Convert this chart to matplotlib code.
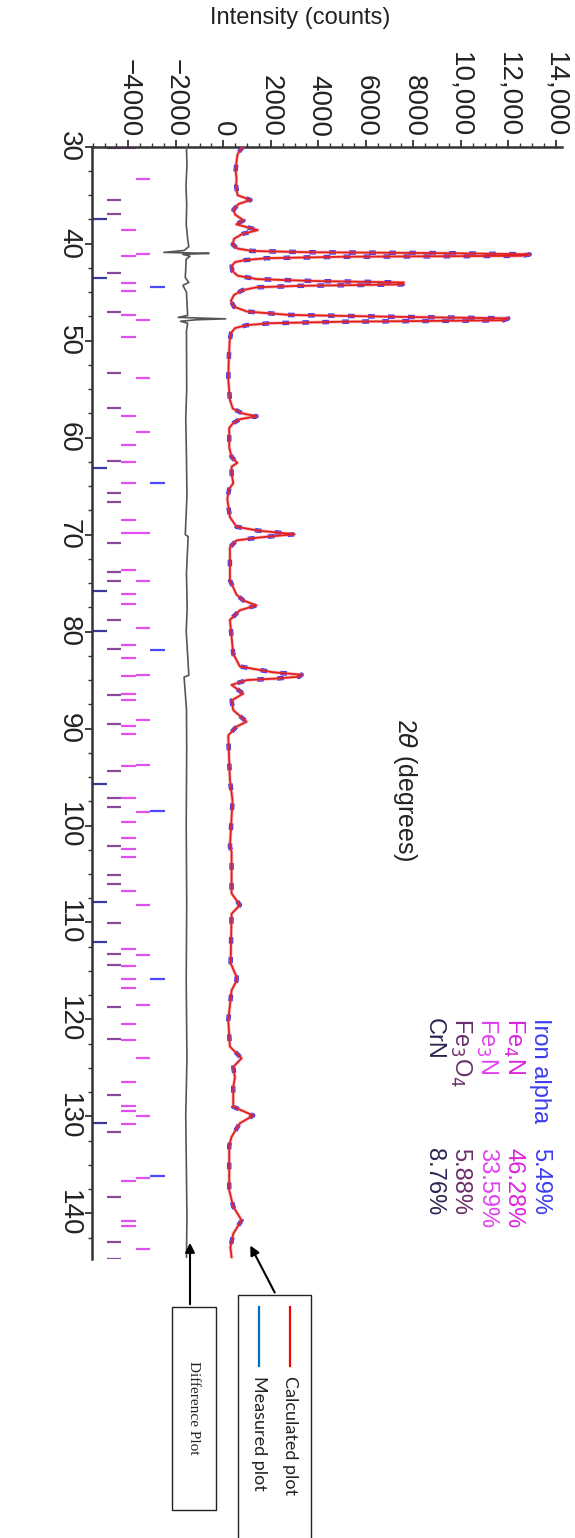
import matplotlib
matplotlib.use("Agg")
import matplotlib.pyplot as plt
from matplotlib.patches import Rectangle
from matplotlib.lines import Line2D
from matplotlib.ticker import MultipleLocator, FuncFormatter

plt.rcParams["font.family"] = ["Liberation Sans", "DejaVu Sans"]

# --- calculated profile (2theta in degrees, intensity in counts) ---
calc_2theta = [30.0, 30.4, 30.8, 31.5, 32.5, 33.3, 34.0, 35.0, 35.5, 35.9, 36.5, 37.0, 37.6,
               38.0, 38.6, 39.0, 39.5, 40.1, 40.5, 40.75, 40.88, 40.98, 41.1, 41.25, 41.35,
               41.5, 41.7, 41.9, 42.3, 42.8, 43.3, 43.65, 43.85, 44.0, 44.2, 44.35, 44.5,
               44.8, 45.3, 45.9, 46.5, 47.0, 47.35, 47.55, 47.7, 47.9, 48.05, 48.2, 48.4,
               48.7, 49.2, 50.0, 52.0, 54.0, 56.1, 57.0, 57.5, 57.8, 58.1, 58.5, 59.0, 61.0,
               62.0, 62.6, 63.0, 63.7, 64.7, 65.3, 66.3, 68.2, 69.2, 69.6, 69.96, 70.3,
               70.6, 71.3, 74.7, 76.2, 76.8, 77.3, 77.8, 78.8, 82.3, 83.6, 84.2, 84.45,
               84.65, 84.85, 85.0, 85.5, 86.4, 87.1, 88.1, 89.3, 89.8, 90.7, 95.3, 97.4,
               102.2, 102.7, 107.0, 108.2, 109.1, 114.2, 115.6, 116.0, 117.0, 120.1, 122.8,
               124.0, 124.9, 126.0, 127.0, 129.0, 129.9, 130.7, 132.1, 133.0, 137.6, 139.3,
               140.7, 142.1, 143.5, 144.5]
calc_counts = [840, 700, 600, 560, 520, 560, 540, 600, 1150, 650, 430, 500, 850,
               550, 1450, 800, 450, 400, 600, 1200, 3500, 9500, 12900, 12600, 5000,
               1800, 900, 500, 350, 380, 600, 1400, 3800, 7600, 7550, 3200, 1400,
               800, 450, 320, 450, 1000, 2800, 7500, 12000, 11800, 5000, 2000, 1000,
               500, 330, 270, 230, 211, 280, 400, 800, 1400, 700, 420, 250, 250,
               350, 590, 350, 350, 420, 250, 170, 280, 560, 1500, 3000, 1500,
               560, 280, 280, 560, 850, 1400, 700, 280, 420, 700, 2100, 3300,
               3200, 2200, 1000, 350, 840, 350, 420, 980, 560, 210, 280, 390,
               280, 350, 350, 700, 350, 310, 560, 560, 350, 210, 280,
               770, 420, 490, 420, 420, 1260, 700, 350, 250, 250, 420,
               770, 420, 300, 350]

# --- difference curve (offset below zero) ---
diff_2theta = [30.0, 32.0, 34.0, 36.0, 38.0, 39.5, 40.3, 40.7, 40.9, 41.0, 41.1, 41.3, 41.6,
               43.5, 44.0, 44.3, 45.0, 47.4, 47.6, 47.75, 47.85, 48.0, 48.2, 49.0, 55.0,
               58.0, 62.0, 66.0, 70.0, 70.2, 74.0, 77.5, 80.0, 84.5, 84.7, 88.0, 92.0,
               100.0, 108.0, 116.0, 124.0, 130.0, 136.0, 140.5, 144.5]
diff_counts = [-1550, -1530, -1570, -1540, -1560, -1500, -1450, -1650, -2500, -600, -1700,
               -1400, -1560, -1600, -1450, -1700, -1550, -1500, -1900, 100, -1150, -1800,
               -1500, -1550, -1540, -1580, -1550, -1530, -1600, -1480, -1550, -1520, -1560,
               -1450, -1650, -1550, -1540, -1560, -1540, -1560, -1530, -1580, -1550, -1530,
               -1550]

# --- reflection markers per phase ---
phases = ["Iron alpha", "Fe$_4$N", "Fe$_3$N", "Fe$_3$O$_4$", "CrN"]
fractions = ["5.49%", "46.28%", "33.59%", "5.88%", "8.76%"]
pos_iron = [44.50, 64.72, 81.92, 98.50, 115.86, 136.18]
pos_fe4n = [33.30, 41.07, 47.88, 53.83, 59.40, 69.82, 74.80, 79.62, 84.43, 89.14, 93.78,
            98.60, 108.22, 113.35, 118.51, 123.98, 129.96, 136.32, 143.64]
pos_fe3n = [30.17, 38.59, 41.24, 44.03, 44.85, 47.33, 49.66, 57.75, 60.74, 62.56, 64.72,
            68.45, 69.82, 73.60, 76.14, 77.14, 81.43, 82.77, 84.60, 86.43, 87.08, 89.73,
            90.55, 93.85, 97.16, 99.63, 101.31, 102.42, 103.24, 106.75, 112.73, 114.52,
            115.86, 116.72, 120.50, 122.15, 126.48, 128.96, 129.44, 130.74, 136.70,
            140.82, 141.31]
pos_fe3o4 = [30.10, 35.50, 36.94, 43.06, 47.02, 53.31, 56.92, 62.39, 65.69, 66.68, 70.85,
             73.84, 74.80, 78.79, 81.78, 86.56, 89.55, 94.37, 97.16, 98.14, 102.14, 105.06,
             106.06, 110.05, 113.21, 114.38, 118.71, 121.98, 127.79, 131.61, 138.32,
             142.96, 144.67]
pos_crn = [37.46, 43.51, 63.18, 75.80, 79.96, 95.67, 107.91, 112.04, 130.64]
marker_positions = [pos_iron, pos_fe4n, pos_fe3n, pos_fe3o4, pos_crn]

intensity_ticks = [-4000, -2000, 0, 2000, 4000, 6000, 8000, 10000, 12000, 14000]

COL_TEXT = ["#3b3bf0", "#dd22dd", "#e040f0", "#6b2c6b", "#2b2350"]
COL_MARK = ["#4a4aff", "#e050f0", "#e050f0", "#8a4a9a", "#3a3a9a"]
MARK_ROWS = [(-3080, -2460), (-3680, -3080), (-4300, -3680), (-4900, -4300), (-5540, -4900)]

W, H = 575, 1538


def fx(px):
    return px / W


def fy(py):
    return 1 - py / H


fig = plt.figure(figsize=(W / 100, H / 100), dpi=100)
ax = fig.add_axes([fx(91.7), fy(1259), fx(561.7) - fx(91.7), fy(146.7) - fy(1259)])

# measured (blue, broken) under calculated (red)
ax.plot(calc_counts, calc_2theta, color="#2020ff", lw=3.2, zorder=3,
        linestyle=(0, (1.5, 3.0)))
ax.plot(calc_counts, calc_2theta, color="#f08080", lw=2.4, alpha=0.55, zorder=4)
ax.plot(calc_counts, calc_2theta, color="#e32020", lw=1.3, zorder=5)
ax.plot(diff_counts, diff_2theta, color="#555555", lw=1.2, zorder=3)

for pos, col, (x0, x1) in zip(marker_positions, COL_MARK, MARK_ROWS):
    for t in pos:
        ax.plot([x0, x1], [t, t], color=col, lw=1.6, solid_capstyle="butt", zorder=2)

ax.set_xlim(-5540, 14250)
ax.set_ylim(144.7, 30)

for s in ("right", "bottom"):
    ax.spines[s].set_visible(False)
for s in ("left", "top"):
    ax.spines[s].set_linewidth(1.8)
    ax.spines[s].set_color("#333333")

ax.xaxis.set_ticks_position("top")
ax.set_xticks(intensity_ticks)
ax.xaxis.set_minor_locator(MultipleLocator(500))
ax.xaxis.set_major_formatter(FuncFormatter(
    lambda v, p: (f"{int(v):,}" if abs(v) >= 10000 else f"{int(v)}").replace("-", "\u2212")))
ax.yaxis.set_major_locator(MultipleLocator(10))
ax.yaxis.set_minor_locator(MultipleLocator(2.5))
ax.tick_params(axis="both", which="major", length=5, width=1.3, color="#333333",
               labelsize=20, labelcolor="#222222", pad=2)
ax.tick_params(axis="both", which="minor", length=3, width=1.0, color="#333333")
for lab in ax.get_xticklabels():
    lab.set_rotation(-90)
    lab.set_va("bottom")
    lab.set_ha("center")
for lab in ax.get_yticklabels():
    lab.set_rotation(-90)
    lab.set_va("center")
    lab.set_ha("right")

# axis titles (figure rotated by 90 degrees)
fig.text(fx(300), fy(18), "Intensity (counts)", fontsize=17, color="#222222",
         ha="center", va="center")
fig.text(fx(405), fy(790), r"2$\theta$ (degrees)", fontsize=18, color="#222222",
         rotation=-90, ha="center", va="center")

# phase fractions
for i, (name, frac, col) in enumerate(zip(phases, fractions, COL_TEXT)):
    x = fx(540 - 26.5 * i)
    fig.text(x, fy(1018), name, color=col, fontsize=17, rotation=-90, ha="center", va="top")
    fig.text(x, fy(1148), frac, color=col, fontsize=17, rotation=-90, ha="center", va="top")

# legend box
fig.add_artist(Rectangle((fx(238), fy(1545)), fx(311) - fx(238), fy(1295) - fy(1545),
                         transform=fig.transFigure, fill=False, edgecolor="#222222", lw=1.0))
fig.add_artist(Line2D([fx(290), fx(290)], [fy(1307), fy(1366)], transform=fig.transFigure,
                      color="#ff0000", lw=1.6))
fig.add_artist(Line2D([fx(259), fx(259)], [fy(1307), fy(1366)], transform=fig.transFigure,
                      color="#0070c0", lw=1.6))
fig.text(fx(290), fy(1376), "Calculated plot", fontsize=13, family=["Lato", "DejaVu Sans"],
         rotation=-90, ha="center", va="top", color="#222222")
fig.text(fx(259), fy(1376), "Measured plot", fontsize=13, family=["Lato", "DejaVu Sans"],
         rotation=-90, ha="center", va="top", color="#222222")

fig.add_artist(Rectangle((fx(172), fy(1510)), fx(216) - fx(172), fy(1307) - fy(1510),
                         transform=fig.transFigure, fill=False, edgecolor="#222222", lw=1.0))
fig.text(fx(194), fy(1408), "Difference Plot", fontsize=11, family=["Liberation Serif"],
         rotation=-90, ha="center", va="center", color="#222222")

ax.annotate("", xy=(fx(249), fy(1243)), xycoords="figure fraction",
            xytext=(fx(276), fy(1295)), textcoords="figure fraction",
            arrowprops=dict(arrowstyle="-|>", color="black", lw=1.5, mutation_scale=14),
            annotation_clip=False)
ax.annotate("", xy=(fx(190), fy(1240)), xycoords="figure fraction",
            xytext=(fx(190), fy(1307)), textcoords="figure fraction",
            arrowprops=dict(arrowstyle="-|>", color="black", lw=1.5, mutation_scale=14),
            annotation_clip=False)

fig.savefig("out.png", dpi=100)
